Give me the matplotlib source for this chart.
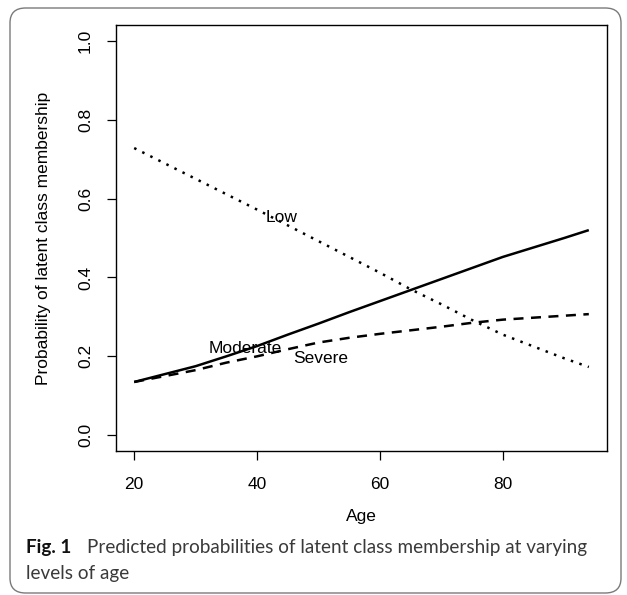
import matplotlib
matplotlib.use("Agg")
import matplotlib.pyplot as plt
from matplotlib.patches import FancyBboxPatch

# ---------------- data ----------------
age = [20, 30, 35, 40, 45, 50, 55, 60, 65, 70, 75, 80, 90, 94]
low = [0.728, 0.650, 0.611, 0.572, 0.532, 0.492, 0.452, 0.412, 0.370, 0.332,
       0.292, 0.255, 0.195, 0.173]
moderate = [0.135, 0.175, 0.200, 0.226, 0.255, 0.283, 0.312, 0.340, 0.368, 0.396,
            0.424, 0.452, 0.500, 0.520]
severe = [0.135, 0.165, 0.184, 0.200, 0.218, 0.235, 0.247, 0.257, 0.266, 0.275,
          0.285, 0.293, 0.303, 0.307]

# curve labels: (text, age, probability)
labels = [("Low", 44.0, 0.551), ("Moderate", 38.0, 0.220), ("Severe", 50.3, 0.195)]

x_ticks = [20, 40, 60, 80]
y_ticks = [0.0, 0.2, 0.4, 0.6, 0.8, 1.0]

W, H = 627, 595


def fx(px):
    return px / W


def fy(py):
    return 1 - py / H


plt.rcParams["font.family"] = ["Liberation Sans", "DejaVu Sans"]

fig = plt.figure(figsize=(W / 100, H / 100), dpi=100)
ax = fig.add_axes([fx(116), fy(451), fx(607) - fx(116), fy(25) - fy(451)])

lw = 1.8
ax.plot(age, low, color="black", lw=lw, dashes=(1.0, 2.6), dash_capstyle="butt")
ax.plot(age, moderate, color="black", lw=lw, solid_capstyle="butt")
ax.plot(age, severe, color="black", lw=lw, dashes=(4.0, 3.0), dash_capstyle="butt")

for txt, xa, ya in labels:
    ax.text(xa, ya, txt, ha="center", va="center", fontsize=12.5)

ax.set_xlim(17.04, 96.96)
ax.set_ylim(-0.04, 1.04)
ax.set_xticks(x_ticks)
ax.set_yticks(y_ticks)
ax.set_xticklabels([str(v) for v in x_ticks])
ax.set_yticklabels([f"{v:.1f}" for v in y_ticks], rotation=90, va="center")
ax.tick_params(length=6.5, width=0.9, labelsize=12.5, color="black")
ax.tick_params(axis="x", pad=12)
ax.tick_params(axis="y", pad=10)

for s in ax.spines.values():
    s.set_linewidth(1.0)
    s.set_color("black")

ax.set_xlabel("Age", fontsize=12.5, va="center")
ax.xaxis.set_label_coords(0.5, (451 - 516) / 426)
ax.set_ylabel("Probability of latent class membership", fontsize=12.5, va="center")
ax.yaxis.set_label_coords((43 - 116) / 491, 0.5)

# caption
cap_font = ["Lato", "DejaVu Sans"]
fig.text(fx(26), fy(553), "Fig. 1", fontsize=13.6, fontweight="bold",
         family=cap_font, color="#111111", va="baseline")
fig.text(fx(87), fy(553), "Predicted probabilities of latent class membership at varying",
         fontsize=13.6, family=cap_font, color="#3a3a3a", va="baseline")
fig.text(fx(26), fy(579), "levels of age", fontsize=13.6, family=cap_font,
         color="#3a3a3a", va="baseline")

# rounded outer frame
frame = FancyBboxPatch((fx(10), fy(593)), fx(621) - fx(10), fy(8) - fy(593),
                       boxstyle="round,pad=0,rounding_size=0.025",
                       transform=fig.transFigure, fill=False,
                       edgecolor="#7a7a7a", lw=1.0)
fig.patches.append(frame)

fig.savefig("out.png", dpi=100)
